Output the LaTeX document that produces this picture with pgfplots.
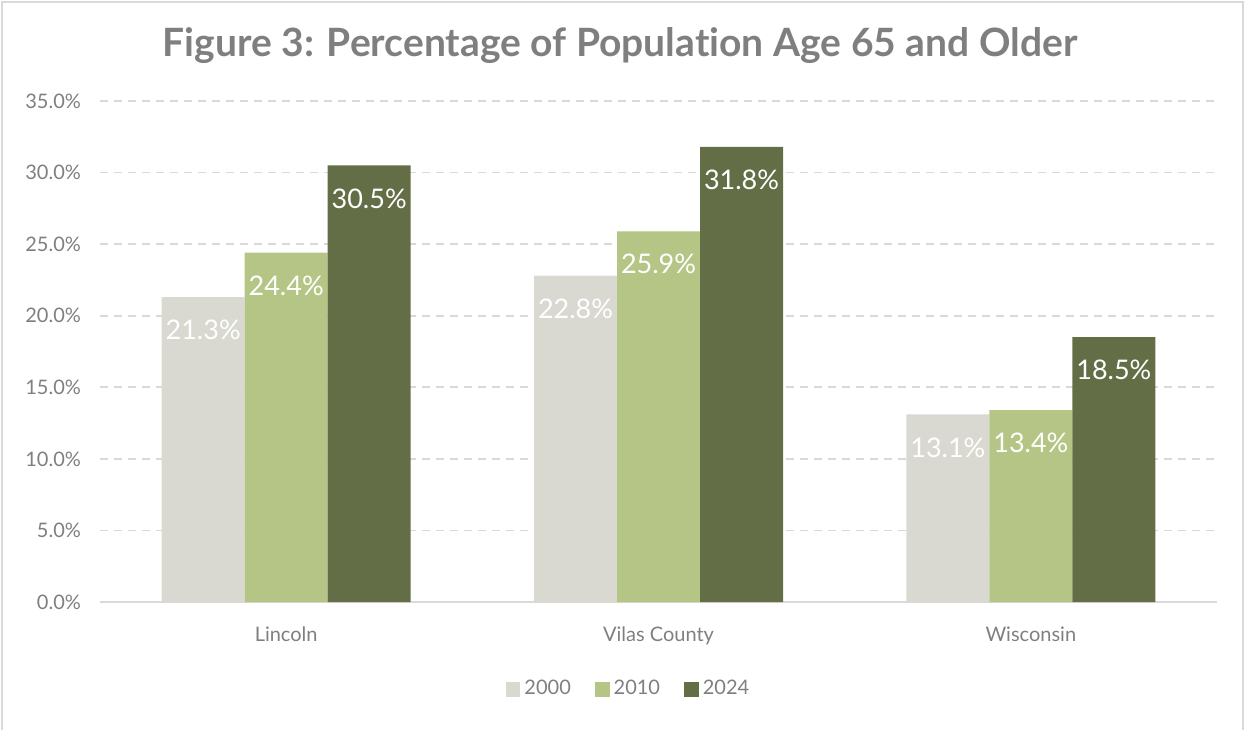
\documentclass[border=0pt]{standalone}
\usepackage{pgfplots}
\pgfplotsset{compat=1.18}
\usepackage{fontspec}
\setmainfont{Lato}[Ligatures=NoCommon]
\definecolor{cA}{HTML}{D9D9D2}
\definecolor{cB}{HTML}{B5C585}
\definecolor{cC}{HTML}{636E46}
\definecolor{txt}{HTML}{7F7F7F}
\definecolor{grd}{HTML}{D9D9D9}
\begin{document}
\begin{tikzpicture}
\useasboundingbox (0,0) rectangle (623.5pt,364.5pt);
\draw[grd, line width=1pt] (1pt,-5pt) -- (1pt,363.5pt) -- (621.5pt,363.5pt) -- (621.5pt,-5pt);
\node[font=\fontsize{19.5}{22}\selectfont\bfseries, text=txt] at (310pt,341.5pt) {Figure 3: Percentage of Population Age 65 and Older};
\begin{axis}[
  at={(50pt,63.5pt)}, anchor=south west,
  scale only axis, width=558.5pt, height=250.5pt,
  ybar=0pt, bar width=41.5pt,
  xmin=-0.5, xmax=2.5, ymin=0, ymax=35,
  xtick={0,1,2}, xticklabels={Lincoln, Vilas County, Wisconsin},
  ytick={0,5,...,35},
  /pgf/number format/assume math mode=true,
  yticklabel={\pgfmathprintnumber[fixed,fixed zerofill,precision=1]{\tick}\%},
  axis x line*=bottom, axis y line*=left,
  y axis line style={draw=none},
  x axis line style={grd, line width=0.9pt},
  major tick length=0pt,
  ymajorgrids, grid style={grd, line width=0.8pt, dash pattern=on 4pt off 3pt},
  tick label style={text=txt, font=\fontsize{10}{12}\selectfont},
  yticklabel style={xshift=-6pt},
  xticklabel style={yshift=-9pt},
  point meta=y,
  nodes near coords={\pgfmathprintnumber[fixed,fixed zerofill,precision=1]{\pgfplotspointmeta}\%},
  nodes near coords style={anchor=north, text=white, font=\fontsize{13.5}{15}\selectfont, yshift=-8pt},
  legend style={at={(0.474,-0.174)}, anchor=center, draw=none, fill=none,
    legend columns=-1, font=\fontsize{10}{12}\selectfont, text=txt,
    /tikz/every even column/.append style={column sep=10pt}},
  legend image code/.code={\fill[#1] (0pt,-3.7pt) rectangle (7.4pt,3.7pt);},
]
\addplot[fill=cA, draw=none] coordinates {(0,21.3) (1,22.8) (2,13.1)};
\addplot[fill=cB, draw=none] coordinates {(0,24.4) (1,25.9) (2,13.4)};
\addplot[fill=cC, draw=none] coordinates {(0,30.5) (1,31.8) (2,18.5)};
\legend{2000,2010,2024}
\end{axis}
\end{tikzpicture}
\end{document}
